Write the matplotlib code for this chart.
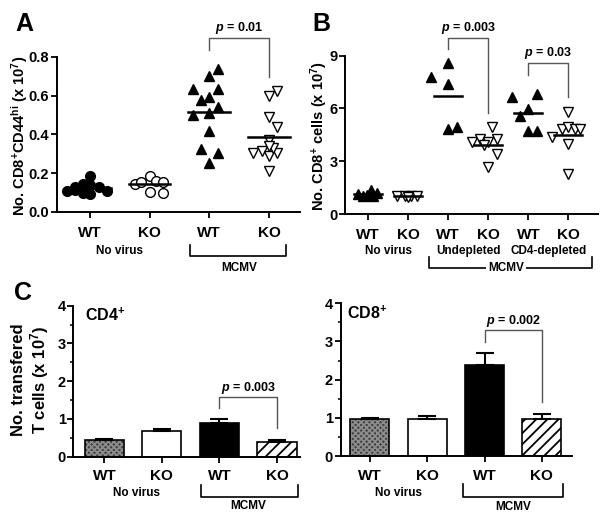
import matplotlib.pyplot as plt
import matplotlib.transforms as mtransforms
import numpy as np

plt.rcParams["font.family"] = ["Liberation Sans", "DejaVu Sans"]
plt.rcParams["font.weight"] = "bold"
plt.rcParams["mathtext.fontset"] = "custom"
plt.rcParams["mathtext.rm"] = "Liberation Sans:bold"
plt.rcParams["mathtext.bf"] = "Liberation Sans:bold"
plt.rcParams["mathtext.it"] = "Liberation Sans:bold:italic"
plt.rcParams["mathtext.default"] = "rm"
plt.rcParams["hatch.linewidth"] = 1.3

W, H = 601, 519

# ---- Panel A: CD8+CD44hi counts (x 10^7), per mouse
a_labels = ["WT", "KO", "WT", "KO"]
a_wt_nv = [0.105, 0.127, 0.144, 0.186, 0.136, 0.127, 0.105, 0.098, 0.093, 0.110]
a_wt_nv_dx = [-0.39, -0.25, -0.12, 0.01, 0.01, 0.155, 0.28, -0.12, 0.01, -0.25]
a_ko_nv = [0.141, 0.153, 0.186, 0.161, 0.153, 0.102, 0.098]
a_ko_nv_dx = [-0.25, -0.14, 0.0, 0.11, 0.22, 0.0, 0.22]
a_wt_mcmv = [0.636, 0.576, 0.703, 0.737, 0.593, 0.636, 0.500, 0.508, 0.542,
             0.415, 0.322, 0.305, 0.254]
a_wt_mcmv_dx = [-0.28, -0.14, 0.0, 0.14, 0.0, 0.14, -0.28, 0.0, 0.14,
                0.0, -0.14, 0.14, 0.0]
a_ko_mcmv = [0.600, 0.624, 0.490, 0.440, 0.373, 0.305, 0.313, 0.288, 0.305,
             0.212, 0.330, 0.340]
a_ko_mcmv_dx = [0.0, 0.14, 0.0, 0.14, 0.0, -0.26, -0.12, 0.0, 0.14,
                0.0, 0.07, 0.0]

# ---- Panel B: CD8+ cells (x 10^7)
b_labels = ["WT", "KO", "WT", "KO", "WT", "KO"]
b_wt_nv = [1.15, 1.05, 1.10, 1.35, 1.00, 1.20]
b_wt_nv_dx = [-0.25, -0.12, -0.04, 0.08, 0.12, 0.21]
b_ko_nv = [1.05, 1.00, 1.00, 1.05, 0.95]
b_ko_nv_dx = [-0.29, -0.08, 0.08, 0.21, 0.0]
b_wt_und = [7.80, 8.60, 7.40, 4.83, 4.96]
b_wt_und_dx = [-0.42, 0.0, 0.0, 0.0, 0.22]
b_ko_und = [4.07, 4.26, 4.07, 4.26, 4.93, 3.41, 2.65, 3.90]
b_ko_und_dx = [-0.42, -0.21, 0.0, 0.21, 0.08, 0.21, 0.0, -0.10]
b_wt_cd4 = [6.63, 6.82, 5.97, 5.59, 4.74, 4.74]
b_wt_cd4_dx = [-0.42, 0.21, 0.0, -0.21, 0.0, 0.21]
b_ko_cd4 = [4.36, 4.83, 4.93, 4.83, 4.83, 5.78, 3.98, 2.27]
b_ko_cd4_dx = [-0.42, -0.17, 0.0, 0.17, 0.29, 0.0, 0.0, 0.0]

# ---- Panel C: transferred T cells (x 10^7), mean + SEM
c_labels = ["WT", "KO", "WT", "KO"]
c_cd4_mean = [0.45, 0.69, 0.90, 0.40]
c_cd4_sem = [0.02, 0.04, 0.10, 0.05]
c_cd8_mean = [0.98, 0.97, 2.38, 0.97]
c_cd8_sem = [0.02, 0.07, 0.33, 0.14]


def fy(py):
    return 1 - py / H


def add_axes(px_left, px_top, px_right, px_bottom):
    ax = fig.add_axes([px_left / W, fy(px_bottom), (px_right - px_left) / W,
                       (px_bottom - px_top) / H])
    for side in ("top", "right"):
        ax.spines[side].set_visible(False)
    for side in ("left", "bottom"):
        ax.spines[side].set_linewidth(1.4)
    ax.tick_params(direction="out", length=4, width=1.3, labelsize=10.5, pad=1.5)
    return ax


def dot_group(ax, pos, dx, vals, marker, filled, ms=7.5):
    ax.plot(pos + np.asarray(dx), vals, linestyle="none", marker=marker, ms=ms,
            mfc="black" if filled else "white", mec="black", mew=1.0,
            clip_on=False, zorder=3)
    m = np.mean(vals)
    ax.plot([pos - 0.35, pos + 0.35], [m, m], color="black", lw=1.8, zorder=4)


def p_bracket(ax, x1, x2, ytop, y1, y2, text, ytext):
    ax.plot([x1, x1, x2, x2], [y1, ytop, ytop, y2], color="#555555", lw=1.0,
            clip_on=False)
    ax.text((x1 + x2) / 2, ytext, text, ha="center", va="center", fontsize=9,
            clip_on=False)


def group_bracket(ax, x1, x2, py_line, py_top, label, xlab, py_lab, box=False):
    tr = mtransforms.blended_transform_factory(ax.transData, fig.transFigure)
    ax.plot([x1, x1, x2, x2], [fy(py_top), fy(py_line), fy(py_line), fy(py_top)],
            color="black", lw=1.2, transform=tr, clip_on=False)
    kw = {}
    if box:
        kw["bbox"] = dict(facecolor="white", edgecolor="none", pad=1.5)
    ax.text(xlab, fy(py_lab), label, transform=tr, ha="center", va="center",
            fontsize=8.5, **kw)


def group_text(ax, x, py, label):
    tr = mtransforms.blended_transform_factory(ax.transData, fig.transFigure)
    ax.text(x, fy(py), label, transform=tr, ha="center", va="center",
            fontsize=8.5)


fig = plt.figure(figsize=(W / 100, H / 100), dpi=100)

# ---------------- Panel A
ax_a = add_axes(57, 57, 300, 211.7)
dot_group(ax_a, 0, a_wt_nv_dx, a_wt_nv, "o", True, ms=7)
dot_group(ax_a, 1, a_ko_nv_dx, a_ko_nv, "o", False, ms=7)
dot_group(ax_a, 2, a_wt_mcmv_dx, a_wt_mcmv, "^", True)
dot_group(ax_a, 3, a_ko_mcmv_dx, a_ko_mcmv, "v", False)
ax_a.set_xlim(-0.55, 3.52)
ax_a.set_ylim(0, 0.8)
ax_a.set_yticks([0.0, 0.2, 0.4, 0.6, 0.8])
ax_a.set_yticklabels(["0.0", "0.2", "0.4", "0.6", "0.8"])
ax_a.set_xticks(range(4))
ax_a.set_xticklabels(a_labels, fontsize=11)
ax_a.tick_params(axis="x", pad=6)
p_bracket(ax_a, 2, 3, 0.898, 0.836, 0.696, r"$\mathit{p}$ = 0.01", 0.95)
group_text(ax_a, 0.5, 250.7, "No virus")
group_bracket(ax_a, 1.67, 3.28, 256, 245, "MCMV", 2.5, 268)
fig.text(20 / W, fy(136), r"No. CD8$^{+}$CD44$^{hi}$ (x 10$^{7}$)", rotation=90,
         ha="center", va="center", fontsize=10.5)
fig.text(24 / W, fy(24), "A", fontsize=18, ha="center", va="center")

# ---------------- Panel B
ax_b = add_axes(345, 55.5, 598, 214)
dot_group(ax_b, 0, b_wt_nv_dx, b_wt_nv, "^", True)
dot_group(ax_b, 1, b_ko_nv_dx, b_ko_nv, "v", False)
dot_group(ax_b, 2, b_wt_und_dx, b_wt_und, "^", True)
dot_group(ax_b, 3, b_ko_und_dx, b_ko_und, "v", False)
dot_group(ax_b, 4, b_wt_cd4_dx, b_wt_cd4, "^", True)
dot_group(ax_b, 5, b_ko_cd4_dx, b_ko_cd4, "v", False)
ax_b.set_xlim(-0.58, 5.74)
ax_b.set_ylim(0, 9)
ax_b.set_yticks([0, 3, 6, 9])
ax_b.set_xticks(range(6))
ax_b.set_xticklabels(b_labels, fontsize=11)
ax_b.tick_params(axis="x", pad=6)
p_bracket(ax_b, 2, 3, 10.0, 9.35, 5.72, r"$\mathit{p}$ = 0.003", 10.54)
p_bracket(ax_b, 4, 5, 8.59, 7.89, 6.66, r"$\mathit{p}$ = 0.03", 9.12)
group_text(ax_b, 0.5, 250.7, "No virus")
group_text(ax_b, 2.5, 250.7, "Undepleted")
group_text(ax_b, 4.5, 250.7, "CD4-depleted")
group_bracket(ax_b, 1.52, 5.58, 268.3, 256.7, "MCMV", 3.44, 268, box=True)
fig.text(319 / W, fy(136), r"No. CD8$^{+}$ cells (x 10$^{7}$)", rotation=90,
         ha="center", va="center", fontsize=10.5)
fig.text(321 / W, fy(24), "B", fontsize=18, ha="center", va="center")


# ---------------- Panel C
def bar_panel(ax, means, sems, labels):
    x = np.arange(len(means))
    # stippled grey, white, black, hatched
    ax.bar(x[0], means[0], width=0.68, color="#404040", edgecolor="#8c8c8c",
           hatch="xxxxxx", lw=0, zorder=2)
    ax.bar(x[0], means[0], width=0.68, fill=False, edgecolor="black", lw=1.2,
           zorder=3)
    ax.bar(x[1], means[1], width=0.68, color="white", edgecolor="black", lw=1.2,
           zorder=2)
    ax.bar(x[2], means[2], width=0.68, color="black", edgecolor="black", lw=1.2,
           zorder=2)
    ax.bar(x[3], means[3], width=0.68, color="white", edgecolor="black", lw=1.2,
           hatch="///", zorder=2)
    ax.errorbar(x, means, yerr=[np.zeros(len(sems)), sems], fmt="none",
                ecolor="black", elinewidth=1.5, capsize=6.5, capthick=1.5,
                zorder=4)
    ax.set_ylim(0, 4)
    ax.set_yticks([0, 1, 2, 3, 4])
    ax.set_yticks(np.arange(0.5, 4, 1.0), minor=True)
    ax.tick_params(axis="y", which="minor", length=2.5, width=1.1)
    ax.set_xticks(x)
    ax.set_xticklabels(labels, fontsize=11)
    ax.tick_params(axis="x", pad=5)


ax_c1 = add_axes(73.3, 305.7, 300, 456.7)
bar_panel(ax_c1, c_cd4_mean, c_cd4_sem, c_labels)
ax_c1.set_xlim(-0.54, 3.4)
p_bracket(ax_c1, 2, 3, 1.59, 1.29, 0.76, r"$\mathit{p}$ = 0.003", 1.82)
group_text(ax_c1, 0.55, 492.7, "No virus")
group_bracket(ax_c1, 1.68, 3.36, 496.7, 485, "MCMV", 2.5, 506)
fig.text(85 / W, fy(315), r"CD4$^{+}$", ha="left", va="center", fontsize=11.5)
fig.text(31 / W, fy(380), "No. transfered\n" + r"T cells (x 10$^{7}$)",
         rotation=90, ha="center", va="center", fontsize=12, linespacing=1.1)
fig.text(23 / W, fy(293), "C", fontsize=18, ha="center", va="center")

ax_c2 = add_axes(340.7, 303.3, 571.7, 456)
bar_panel(ax_c2, c_cd8_mean, c_cd8_sem, c_labels)
ax_c2.set_xlim(-0.51, 3.52)
p_bracket(ax_c2, 2, 3, 3.30, 2.98, 1.42, r"$\mathit{p}$ = 0.002", 3.54)
group_text(ax_c2, 0.49, 492.7, "No virus")
group_bracket(ax_c2, 1.63, 3.36, 496.7, 484, "MCMV", 2.5, 506.7)
fig.text(347 / W, fy(313), r"CD8$^{+}$", ha="left", va="center", fontsize=11.5)

fig.savefig("out.png", dpi=100)
